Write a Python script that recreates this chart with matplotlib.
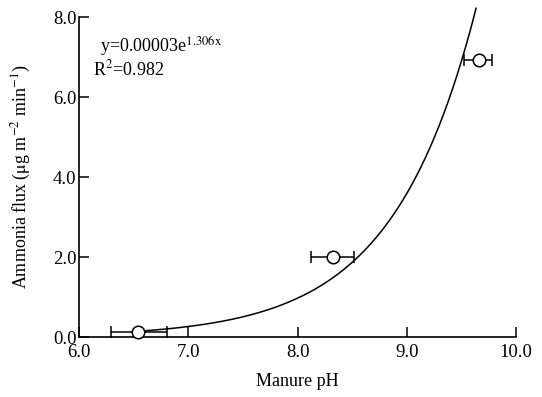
import matplotlib
matplotlib.use('Agg')
import matplotlib.pyplot as plt
import numpy as np

# measured points (manure pH vs ammonia flux) with horizontal error bars
ph = [6.54, 8.32, 9.66]
flux = [0.12, 2.0, 6.93]
ph_err_low = [0.25, 0.20, 0.14]
ph_err_high = [0.26, 0.20, 0.12]

# fitted exponential curve (label shows the rounded coefficients)
fit_a = 0.0000282
fit_b = 1.306

plt.rcParams['font.family'] = ['Liberation Serif', 'DejaVu Serif']
plt.rcParams['mathtext.fontset'] = 'stix'

fig = plt.figure(figsize=(5.42, 3.97), dpi=100)
ax = fig.add_axes([0.146, 0.151, 0.806, 0.806])

x_fit = np.linspace(6.5, 9.8, 400)
y_fit = fit_a * np.exp(fit_b * x_fit)
keep = y_fit <= 8.3
ax.plot(x_fit[keep], y_fit[keep], color='black', linewidth=1.1, clip_on=False, zorder=2)

ax.errorbar(ph, flux, xerr=[ph_err_low, ph_err_high], fmt='o',
            markersize=9, markerfacecolor='white', markeredgecolor='black',
            markeredgewidth=1.1, ecolor='black', elinewidth=1.1,
            capsize=4, capthick=1.1, zorder=3, clip_on=False)

ax.text(6.19, 7.25, r'y=0.00003e$^{\mathrm{1.306x}}$', fontsize=13, ha='left', va='center')
ax.text(6.13, 6.68, r'R$^2$=0.982', fontsize=13, ha='left', va='center')

ax.set_xlim(6.0, 10.0)
ax.set_ylim(0.0, 8.0)
ax.set_xticks([6.0, 7.0, 8.0, 9.0, 10.0])
ax.set_yticks([0.0, 2.0, 4.0, 6.0, 8.0])
ax.xaxis.set_major_formatter(matplotlib.ticker.FormatStrFormatter('%.1f'))
ax.yaxis.set_major_formatter(matplotlib.ticker.FormatStrFormatter('%.1f'))
ax.tick_params(direction='in', length=7, width=1.1, labelsize=13.5)
ax.tick_params(axis='x', pad=5)
ax.tick_params(axis='y', pad=2)

for side in ['top', 'right']:
    ax.spines[side].set_visible(False)
for side in ['left', 'bottom']:
    ax.spines[side].set_linewidth(1.2)

ax.set_xlabel('Manure pH', fontsize=13, labelpad=9)
ax.set_ylabel(r'Ammonia flux ($\mathrm{\mu}$g m$^{-2}$ min$^{-1}$)', fontsize=13, labelpad=14)

plt.savefig('out.png', dpi=100)
plt.close()
